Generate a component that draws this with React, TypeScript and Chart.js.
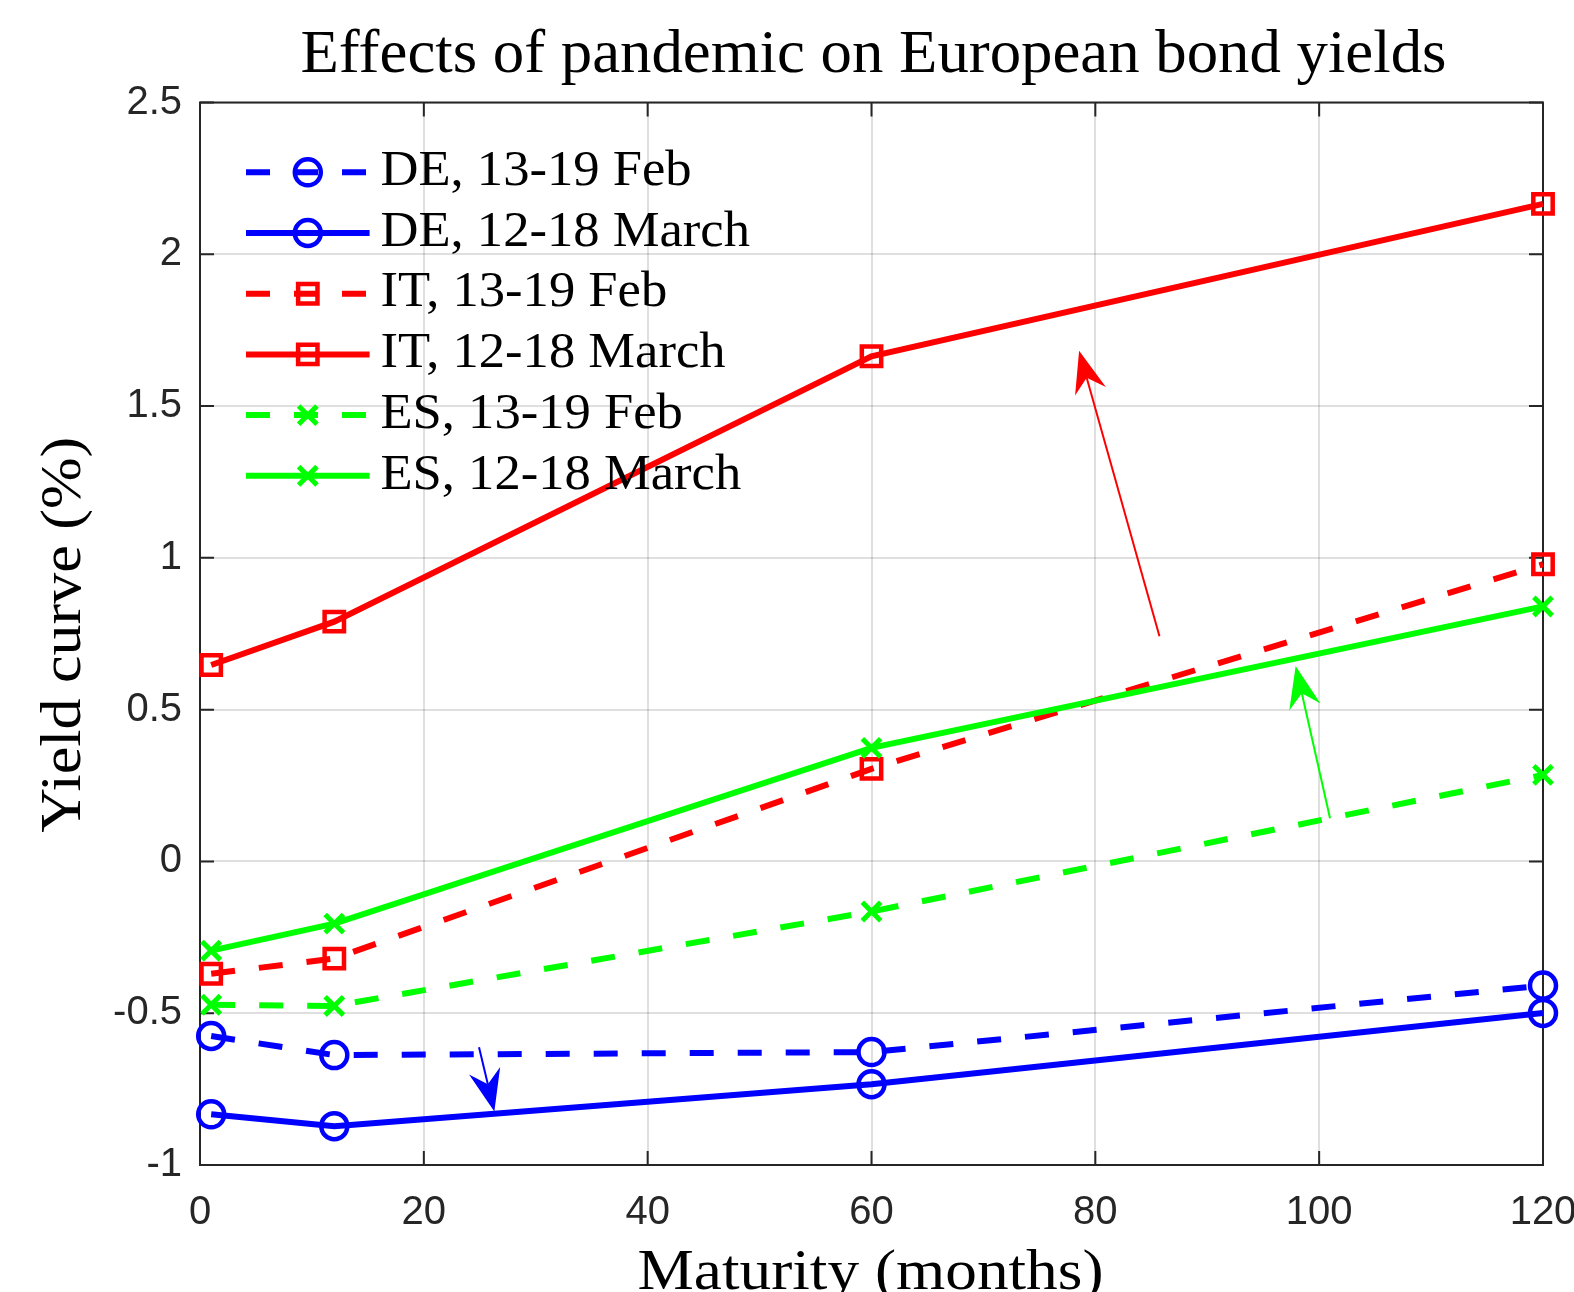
import React, { useEffect, useRef } from 'react';
import { Chart, registerables } from 'chart.js';
import { drawPoint } from 'chart.js/helpers';

Chart.register(...registerables);

// ---------- data ----------
const maturities = [1, 12, 60, 120];
const deFeb = [-0.575, -0.638, -0.628, -0.409];
const deMar = [-0.833, -0.872, -0.734, -0.499];
const itFeb = [-0.37, -0.32, 0.305, 0.979];
const itMar = [0.647, 0.79, 1.664, 2.166];
const esFeb = [-0.472, -0.476, -0.165, 0.285];
const esMar = [-0.294, -0.205, 0.374, 0.84];
const seriesLabels = [
  'DE, 13-19 Feb',
  'DE, 12-18 March',
  'IT, 13-19 Feb',
  'IT, 12-18 March',
  'ES, 13-19 Feb',
  'ES, 12-18 March',
];
const xTicks = [0, 20, 40, 60, 80, 100, 120];
const xTickLabels = ['0', '20', '40', '60', '80', '100', '120'];
const yTicks = [-1, -0.5, 0, 0.5, 1, 1.5, 2, 2.5];
const yTickLabels = ['-1', '-0.5', '0', '0.5', '1', '1.5', '2', '2.5'];
// annotation arrows, in data units (tail -> head)
const arrowTails = [
  [85.73, 0.742],
  [100.97, 0.142],
  [24.93, -0.612],
];
const arrowHeads = [
  [78.55, 1.682],
  [97.9, 0.644],
  [26.3, -0.824],
];
const titleText = 'Effects of pandemic on European bond yields';
const xTitleText = 'Maturity (months)';
const yTitleText = 'Yield curve (%)';

// ---------- styles ----------
const BLUE = '#0000ff';
const RED = '#ff0000';
const GREEN = '#00ff00';
const seriesValues = [deFeb, deMar, itFeb, itMar, esFeb, esMar];
const seriesColors = [BLUE, BLUE, RED, RED, GREEN, GREEN];
const seriesDashed = [true, false, true, false, true, false];
const seriesPoint = ['circle', 'circle', 'rect', 'rect', 'crossRot', 'crossRot'];
const pointRadiusFor: Record<string, number> = { circle: 13, rect: 13.7, crossRot: 13 };
const pointBorderFor: Record<string, number> = { circle: 4.5, rect: 4.5, crossRot: 5 };
const arrowColors = [RED, GREEN, BLUE];
const AXIS_COLOR = '#262626';
const DASH = [24, 24];
const LINE_W = 6;
const SERIF = '"Liberation Serif", "Times New Roman", serif';
const SANS = '"Liberation Sans", Arial, Helvetica, sans-serif';

function fitText(
  ctx: CanvasRenderingContext2D,
  text: string,
  x: number,
  y: number,
  size: number,
  width: number | null,
  align: CanvasTextAlign,
  rot = 0,
  sxOverride?: number
) {
  ctx.save();
  ctx.font = `${size}px ${SERIF}`;
  const w = ctx.measureText(text).width;
  const sx = sxOverride ?? (width ? width / w : 1);
  ctx.translate(x, y);
  ctx.rotate(rot);
  ctx.scale(sx, 1);
  ctx.textAlign = align;
  ctx.textBaseline = 'alphabetic';
  ctx.fillStyle = '#000';
  ctx.fillText(text, 0, 0);
  ctx.restore();
}

function drawArrow(ctx: CanvasRenderingContext2D, x0: number, y0: number, x1: number, y1: number, color: string) {
  const dx = x1 - x0;
  const dy = y1 - y0;
  const len = Math.hypot(dx, dy);
  const ux = dx / len;
  const uy = dy / len;
  const nx = -uy;
  const ny = ux;
  const L = 42;
  const W = 16;
  const N = 28;
  ctx.save();
  ctx.strokeStyle = color;
  ctx.fillStyle = color;
  ctx.lineWidth = 2;
  ctx.setLineDash([]);
  ctx.beginPath();
  ctx.moveTo(x0, y0);
  ctx.lineTo(x1 - ux * N, y1 - uy * N);
  ctx.stroke();
  ctx.beginPath();
  ctx.moveTo(x1, y1);
  ctx.lineTo(x1 - ux * L + nx * W, y1 - uy * L + ny * W);
  ctx.lineTo(x1 - ux * N, y1 - uy * N);
  ctx.lineTo(x1 - ux * L - nx * W, y1 - uy * L - ny * W);
  ctx.closePath();
  ctx.fill();
  ctx.restore();
}

const framePlugin = {
  id: 'matlabFrame',
  beforeDatasetsDraw(chart: any) {
    const { ctx, chartArea } = chart;
    const { left, right, top, bottom } = chartArea;
    const xs = chart.scales.x;
    const ys = chart.scales.y;
    const T = 14;
    ctx.save();
    ctx.strokeStyle = AXIS_COLOR;
    ctx.lineWidth = 2;
    ctx.setLineDash([]);
    ctx.beginPath();
    xTicks.forEach((v) => {
      const px = xs.getPixelForValue(v);
      ctx.moveTo(px, bottom);
      ctx.lineTo(px, bottom - T);
      ctx.moveTo(px, top);
      ctx.lineTo(px, top + T);
    });
    yTicks.forEach((v) => {
      const py = ys.getPixelForValue(v);
      ctx.moveTo(left, py);
      ctx.lineTo(left + T, py);
      ctx.moveTo(right, py);
      ctx.lineTo(right - T, py);
    });
    ctx.stroke();
    ctx.beginPath();
    ctx.rect(left, top, right - left, bottom - top);
    ctx.stroke();
    ctx.restore();
  },
  afterDatasetsDraw(chart: any) {
    const { ctx } = chart;
    const xs = chart.scales.x;
    const ys = chart.scales.y;
    arrowTails.forEach((t, i) => {
      const h = arrowHeads[i];
      drawArrow(
        ctx,
        xs.getPixelForValue(t[0]),
        ys.getPixelForValue(t[1]),
        xs.getPixelForValue(h[0]),
        ys.getPixelForValue(h[1]),
        arrowColors[i]
      );
    });
  },
  afterDraw(chart: any) {
    const { ctx, chartArea } = chart;
    const { left, right, top, bottom } = chartArea;
    const cx = (left + right) / 2;
    const cy = (top + bottom) / 2;
    // titles
    fitText(ctx, titleText, cx + 2, 72, 62, 1146, 'center');
    fitText(ctx, xTitleText, cx - 1, 1289, 57, 466, 'center');
    fitText(ctx, yTitleText, 80, cy + 1, 57, 396, 'center', -Math.PI / 2);

    // legend
    ctx.save();
    ctx.font = `50px ${SERIF}`;
    const legendScale = 369.6 / ctx.measureText(seriesLabels[1]).width;
    ctx.restore();
    const lx0 = 246;
    const lx1 = 369.6;
    const mx = (lx0 + lx1) / 2;
    seriesLabels.forEach((label, i) => {
      const y = 172.3 + i * 60.7;
      const ps = seriesPoint[i];
      ctx.save();
      ctx.strokeStyle = seriesColors[i];
      ctx.lineWidth = LINE_W;
      ctx.lineCap = 'butt';
      ctx.setLineDash(seriesDashed[i] ? DASH : []);
      ctx.beginPath();
      ctx.moveTo(lx0, y);
      ctx.lineTo(lx1, y);
      ctx.stroke();
      ctx.setLineDash([]);
      ctx.strokeStyle = seriesColors[i];
      ctx.fillStyle = 'rgba(0,0,0,0)';
      ctx.lineWidth = pointBorderFor[ps];
      drawPoint(ctx, { pointStyle: ps as any, radius: pointRadiusFor[ps], rotation: 0, borderWidth: pointBorderFor[ps] }, mx, y);
      ctx.restore();
      fitText(ctx, label, 380.4, y + 12.7, 50, null, 'left', 0, legendScale);
    });
  },
};

export default function App() {
  const ref = useRef<HTMLCanvasElement>(null);
  useEffect(() => {
    const canvas = ref.current;
    if (!canvas) return;
    const datasets = seriesValues.map((vals, i) => ({
      label: seriesLabels[i],
      data: maturities.map((m, k) => ({ x: m, y: vals[k] })),
      borderColor: seriesColors[i],
      backgroundColor: 'rgba(0,0,0,0)',
      borderWidth: LINE_W,
      borderDash: seriesDashed[i] ? DASH : [],
      borderCapStyle: 'butt' as const,
      tension: 0,
      fill: false,
      pointStyle: seriesPoint[i] as any,
      pointRadius: pointRadiusFor[seriesPoint[i]],
      pointHoverRadius: pointRadiusFor[seriesPoint[i]],
      pointBorderWidth: pointBorderFor[seriesPoint[i]],
      pointBorderColor: seriesColors[i],
      pointBackgroundColor: 'rgba(0,0,0,0)',
      clip: false as any,
      order: seriesValues.length - i,
    }));
    const chart = new Chart(canvas, {
      type: 'line',
      data: { datasets },
      options: {
        responsive: false,
        devicePixelRatio: 1,
        animation: false,
        events: [],
        layout: { padding: { left: 0, right: 31, top: 102.5, bottom: 0 } },
        plugins: {
          legend: { display: false },
          title: { display: false },
          tooltip: { enabled: false },
        },
        scales: {
          x: {
            type: 'linear',
            min: 0,
            max: 120,
            afterBuildTicks: (s: any) => {
              s.ticks = xTicks.map((v) => ({ value: v }));
            },
            afterFit: (s: any) => {
              s.height = 127;
              s.paddingLeft = 0;
              s.paddingRight = 0;
            },
            ticks: {
              autoSkip: false,
              maxRotation: 0,
              padding: 24,
              color: AXIS_COLOR,
              font: { family: SANS, size: 40 },
              callback: (v: any) => xTickLabels[xTicks.indexOf(Number(v))],
            },
            grid: { color: 'rgba(38,38,38,0.15)', lineWidth: 2, drawTicks: false },
            border: { display: false },
          },
          y: {
            type: 'linear',
            min: -1,
            max: 2.5,
            afterBuildTicks: (s: any) => {
              s.ticks = yTicks.map((v) => ({ value: v }));
            },
            afterFit: (s: any) => {
              s.width = 200;
              s.paddingTop = 0;
              s.paddingBottom = 0;
            },
            ticks: {
              autoSkip: false,
              padding: 18,
              color: AXIS_COLOR,
              font: { family: SANS, size: 40 },
              callback: (v: any) => yTickLabels[yTicks.indexOf(Number(v))],
            },
            grid: { color: 'rgba(38,38,38,0.15)', lineWidth: 2, drawTicks: false },
            border: { display: false },
          },
        },
      },
      plugins: [framePlugin],
    });
    return () => chart.destroy();
  }, []);
  return (
    <div style={{ position: 'fixed', left: 0, top: 0, width: 1574, height: 1292, background: '#fff' }}>
      <canvas ref={ref} width={1574} height={1292} style={{ width: 1574, height: 1292, display: 'block' }} />
    </div>
  );
}
